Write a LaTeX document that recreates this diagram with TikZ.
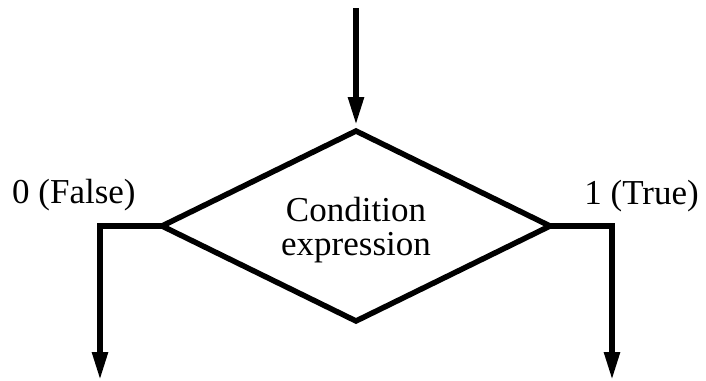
\documentclass[tikz,border=0pt]{standalone}
\usepackage{fontspec}
\setmainfont{Liberation Serif}
\usetikzlibrary{arrows.meta,shapes.geometric,positioning}
\tikzset{
    flow line/.style={
        line width=5.5pt,
        black
    },
    flow arrow/.style={
        flow line,
        -{Triangle[width=15pt,length=28pt]}
    },
    decision box/.style={
        diamond,
        aspect=2,
        draw,
        line width=5.5pt,
        minimum width=388pt,
        minimum height=190pt,
        inner sep=0pt,
        outer sep=0pt
    },
    cond text/.style={
        align=center,
        inner sep=0pt,
        font=\fontsize{35}{34}\selectfont
    },
    branch label/.style={
        inner sep=0pt,
        font=\fontsize{35}{40}\selectfont
    }
}
\begin{document}
\begin{tikzpicture}[x=1pt,y=-1pt]
    \useasboundingbox (0,0) rectangle (706,380);
    \node [decision box] (cond) at (356,226) {};
    \node [cond text] (condtext) at (356,230) {Condition\\expression};
    \coordinate (start) at (356,8);
    \coordinate (falsecorner) at (100,226);
    \coordinate (truecorner) at (612,226);
    \coordinate (falseend) at (100,380);
    \coordinate (trueend) at (612,380);
    \node [branch label, anchor=base west] (falselabel) at (12,203) {0 (False)};
    \node [branch label, anchor=base east] (truelabel) at (699,204) {1 (True)};
    % arrows
    \draw [flow arrow, shorten >=6pt] (start) -- (cond.north);
    \draw [flow arrow] (cond.west) -- (falsecorner) -- (falseend);
    \draw [flow arrow] (cond.east) -- (truecorner) -- (trueend);
\end{tikzpicture}
\end{document}
